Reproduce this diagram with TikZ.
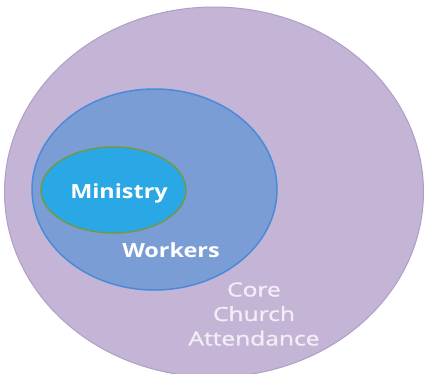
\documentclass[tikz,border=0pt]{standalone}
\usepackage{fontspec}
\setmainfont{Open Sans}
\newfontfamily\midweight[FakeBold=1.2]{Open Sans}
\usepackage{tikz}

\definecolor{attendfill}{HTML}{C4B5D7}
\definecolor{attenddraw}{HTML}{ADA0C4}
\definecolor{workfill}{HTML}{7B9DD6}
\definecolor{workdraw}{HTML}{4A8AD8}
\definecolor{minfill}{HTML}{2AA8E6}
\definecolor{mindraw}{HTML}{6E9A4C}
\definecolor{attendtext}{HTML}{F2EDF6}

\tikzset{
	bigtext/.style={text=white,font=\bfseries\fontsize{19.5}{22}\selectfont,xscale=1.2},
	coretext/.style={text=attendtext,font=\midweight\fontsize{19.5}{24.5}\selectfont,align=center,xscale=1.26}
}

\begin{document}
\begin{tikzpicture}[x=1pt,y=-1pt]

\useasboundingbox (0,0) rectangle (425,373);

% circles
\begin{scope}
\clip (0,0) rectangle (425,373);
\draw[fill=attendfill,draw=attenddraw,line width=1pt] (214,192) ellipse (209.5 and 185);
\end{scope}
\draw[fill=workfill,draw=workdraw,line width=1.5pt] (154.5,189.5) ellipse (122.5 and 100.5);
\draw[fill=minfill,draw=mindraw,line width=1.5pt] (113.5,190) ellipse (72.5 and 43);

% labels
\node[bigtext] (ministry) at (119,193) {Ministry};
\node[bigtext] (workers) at (171,250) {Workers};
\node[coretext] (core) at (254,314) {Core\\Church\\Attendance};

\end{tikzpicture}
\end{document}
